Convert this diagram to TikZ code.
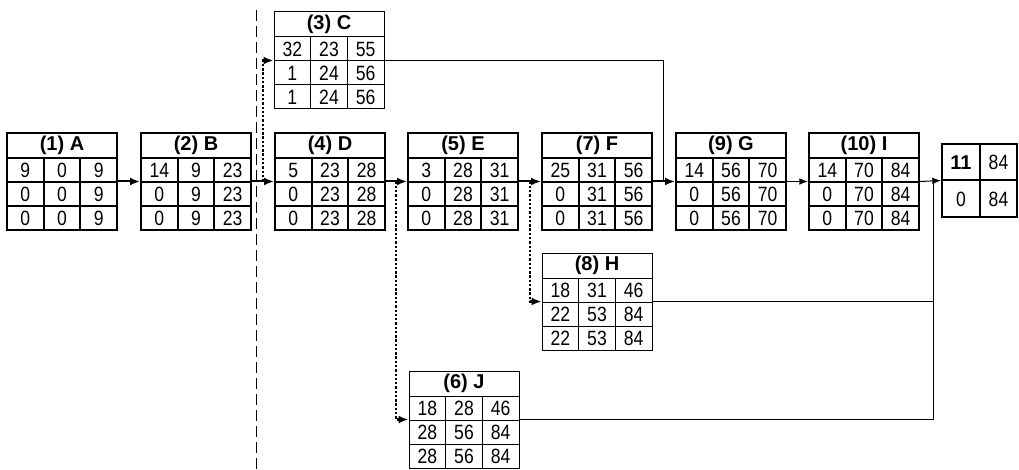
\documentclass[tikz,border=0pt]{standalone}
\usepackage{fontspec}
\setmainfont{Liberation Sans}
\newfontfamily\narrowfont{Liberation Sans}[FakeStretch=0.85]
\usetikzlibrary{arrows.meta}

\tikzset{
  actbox/.style={draw, line width=#1, inner sep=0pt, minimum width=82.5pt, minimum height=72.75pt},
  head/.style={font=\fontsize{15}{17}\selectfont\bfseries},
  cell/.style={font=\narrowfont\fontsize{15.5}{17}\selectfont},
  critlink/.style={line width=1.5pt, -{Latex[length=7.5pt,width=6pt]}},
  thinlink/.style={line width=0.75pt, -{Latex[length=6.5pt,width=5pt]}},
  dotlink/.style={line width=1.8pt, dash pattern=on 1.8pt off 1.4pt, -{Latex[length=7.5pt,width=6pt]}},
  merge/.style={line width=0.75pt}
}

\begin{document}
\begin{tikzpicture}[x=0.75pt,y=-0.75pt]
  \useasboundingbox (0,0) rectangle (1019,470);
  % divider
  \draw[line width=0.75pt, dash pattern=on 8pt off 4pt] (256,10) -- (256,470);
  % activity boxes
  \foreach \n/\x/\y/\ttl/\vals/\lw in {
    A/7/133/{(1) A}/{9,0,9,0,0,9,0,0,9}/1.5pt,
    B/141/133/{(2) B}/{14,9,23,0,9,23,0,9,23}/1.5pt,
    C/274/12/{(3) C}/{32,23,55,1,24,56,1,24,56}/0.75pt,
    D/275/133/{(4) D}/{5,23,28,0,23,28,0,23,28}/1.5pt,
    E/408/133/{(5) E}/{3,28,31,0,28,31,0,28,31}/1.5pt,
    J/409/371/{(6) J}/{18,28,46,28,56,84,28,56,84}/0.75pt,
    F/542/133/{(7) F}/{25,31,56,0,31,56,0,31,56}/1.5pt,
    H/542/253/{(8) H}/{18,31,46,22,53,84,22,53,84}/0.75pt,
    G/676/133/{(9) G}/{14,56,70,0,56,70,0,56,70}/1.5pt,
    I/809/133/{(10) I}/{14,70,84,0,70,84,0,70,84}/1.5pt}
  {
    \node[actbox=\lw] (\n) at (\x+55,\y+48.5) {};
    \draw[line width=\lw] (\x,\y+25) -- ++(110,0) (\x,\y+49) -- ++(110,0) (\x,\y+73) -- ++(110,0)
      (\x+36.7,\y+25) -- ++(0,72) (\x+73.3,\y+25) -- ++(0,72);
    \node[head] at (\x+55,\y+12.5) {\ttl};
    \foreach \val [count=\k from 0] in \vals {
      \pgfmathtruncatemacro\cl{mod(\k,3)}
      \pgfmathtruncatemacro\rw{div(\k,3)}
      \node[cell] at (\x+18.3+36.7*\cl,\y+37+24*\rw) {\val};
    }
  }
  % finish box
  \node[draw, line width=1.5pt, minimum width=56.25pt, minimum height=54.75pt] (end) at (979.5,180.5) {};
  \draw[line width=1.5pt] (end.north) -- (end.south) (end.west) -- (end.east);
  \node[head] at (961,162.5) {11};
  \node[cell] at (998.5,162.5) {84};
  \node[cell] at (961,199) {0};
  \node[cell] at (998.5,199) {84};
  % junctions
  \coordinate (jC) at (263,181.5);
  \coordinate (jJ) at (396,181.5);
  \coordinate (jH) at (530,181.5);
  \coordinate (kG) at (663,181.5);
  \coordinate (kEnd) at (933,181.5);
  % links
  \draw[critlink] (A.east) -- (B.west);
  \draw[critlink] (B.east) -- (D.west);
  \draw[critlink] (D.east) -- (E.west);
  \draw[critlink] (E.east) -- (F.west);
  \draw[critlink] (F.east) -- (G.west);
  \draw[thinlink] (G.east) -- (I.west);
  \draw[thinlink] (I.east) -- (end.west);
  \draw[dotlink] (jC) |- (C.west);
  \draw[dotlink] (jJ) |- (J.west);
  \draw[dotlink] (jH) |- (H.west);
  \draw[merge] (C.east) -| (kG);
  \draw[merge] (H.east) -| (kEnd);
  \draw[merge] (J.east) -| (kEnd);
\end{tikzpicture}
\end{document}
